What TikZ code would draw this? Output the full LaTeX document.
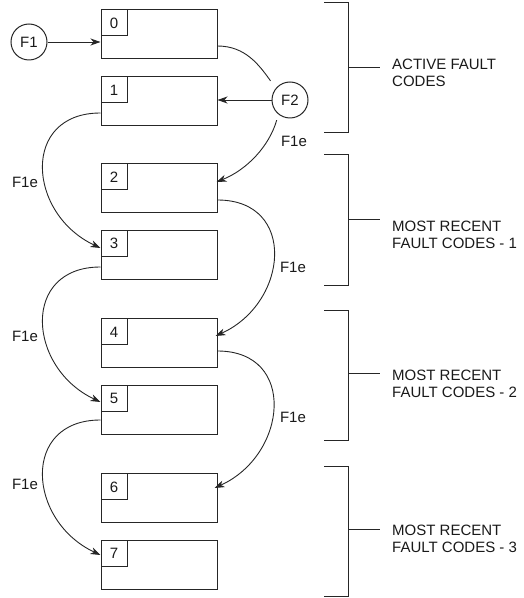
\documentclass[tikz,border=0pt]{standalone}
\usepackage{fontspec}
\setmainfont{Liberation Sans}
\usetikzlibrary{arrows.meta,calc}
\begin{document}
\begin{tikzpicture}[x=1pt,y=1pt,
  every node/.style={font=\fontsize{15}{17.5}\selectfont, text=black!90},
  regbox/.style={draw=black!85, line width=1pt, minimum width=116pt, minimum height=49pt, inner sep=0pt},
  numbox/.style={draw=black!85, line width=1pt, minimum size=26pt, inner sep=0pt, anchor=north west},
  sig/.style={draw=black!85, line width=1pt, circle, minimum size=36pt, inner sep=0pt},
  link/.style={draw=black!85, line width=0.9pt},
  arr/.style={link, -{Stealth[length=10pt,width=7pt,inset=3pt]}},
  brk/.style={draw=black!85, line width=1pt},
  lbl/.style={align=left, anchor=north west, inner sep=0pt},
  elabel/.style={inner sep=0pt}
]
\useasboundingbox (0,0) rectangle (523,598);

% register boxes
\node[regbox] (b0) at (159,563.5) {};
\node[regbox] (b1) at (159,496.5) {};
\node[regbox] (b2) at (159,409.5) {};
\node[regbox] (b3) at (159,343) {};
\node[regbox] (b4) at (159,254.5) {};
\node[regbox] (b5) at (159,188) {};
\node[regbox] (b6) at (159,99.5) {};
\node[regbox] (b7) at (159,33) {};
\foreach \i in {0,...,7} {
  \node[numbox] (n\i) at (b\i.north west) {\i};
}

% signals
\node[sig] (f1) at (29,556) {F1};
\node[sig] (f2) at (290,498) {F2};

% connectors
\draw[arr] (f1) -- (f1 -| b0.west);
\draw[arr] (f2) -- (f2 -| b1.east);
\draw[link, shorten >=9pt] ([yshift=-11.5pt]b0.east) to[out=0,in=126] (f2.140);
\draw[arr, shorten <=6pt] (f2.231) .. controls +(254:33) and +(22:33) .. ([xshift=-1pt,yshift=6.5pt]b2.east);

\draw[arr] ([yshift=-11.5pt]b1.west) .. controls +(-80,0) and +(-73,34) .. ([yshift=7pt]b3.west);
\draw[arr] ([yshift=-12pt]b3.west) .. controls +(-80,0) and +(-73,34) .. ([yshift=8pt]b5.west);
\draw[arr] ([yshift=-10pt]b5.west) .. controls +(-80,0) and +(-73,34) .. ([yshift=10pt]b7.west);

\draw[arr] ([yshift=-11.5pt]b2.east) .. controls +(80,0) and +(73,33) .. ([xshift=-2pt,yshift=7.5pt]b4.east);
\draw[arr] ([yshift=-7.5pt]b4.east) .. controls +(80,0) and +(73,33) .. ([xshift=-3pt,yshift=10.5pt]b6.east);

% edge labels
\node[elabel] (e0) at (294,457) {F1e};
\node[elabel] (e1) at (25,416) {F1e};
\node[elabel] (e2) at (25,262) {F1e};
\node[elabel] (e3) at (25,114) {F1e};
\node[elabel] (e4) at (293,331) {F1e};
\node[elabel] (e5) at (293,181) {F1e};

% brackets
\draw[brk] (324,595) -- (348,595) -- (348,465) -- (324,465);
\draw[brk] (348,530) -- (380,530);
\node[lbl] (t1) at (392,539.5) {ACTIVE FAULT\\CODES};

\draw[brk] (324,443) -- (348,443) -- (348,312) -- (324,312);
\draw[brk] (348,378) -- (380,378);
\node[lbl] (t2) at (392,377.5) {MOST RECENT\\FAULT CODES - 1};

\draw[brk] (324,287) -- (348,287) -- (348,157) -- (324,157);
\draw[brk] (348,224) -- (380,224);
\node[lbl] (t3) at (392,228.5) {MOST RECENT\\FAULT CODES - 2};

\draw[brk] (324,131) -- (348,131) -- (348,1) -- (324,1);
\draw[brk] (348,68) -- (380,68);
\node[lbl] (t4) at (392,73.5) {MOST RECENT\\FAULT CODES - 3};
\end{tikzpicture}
\end{document}
